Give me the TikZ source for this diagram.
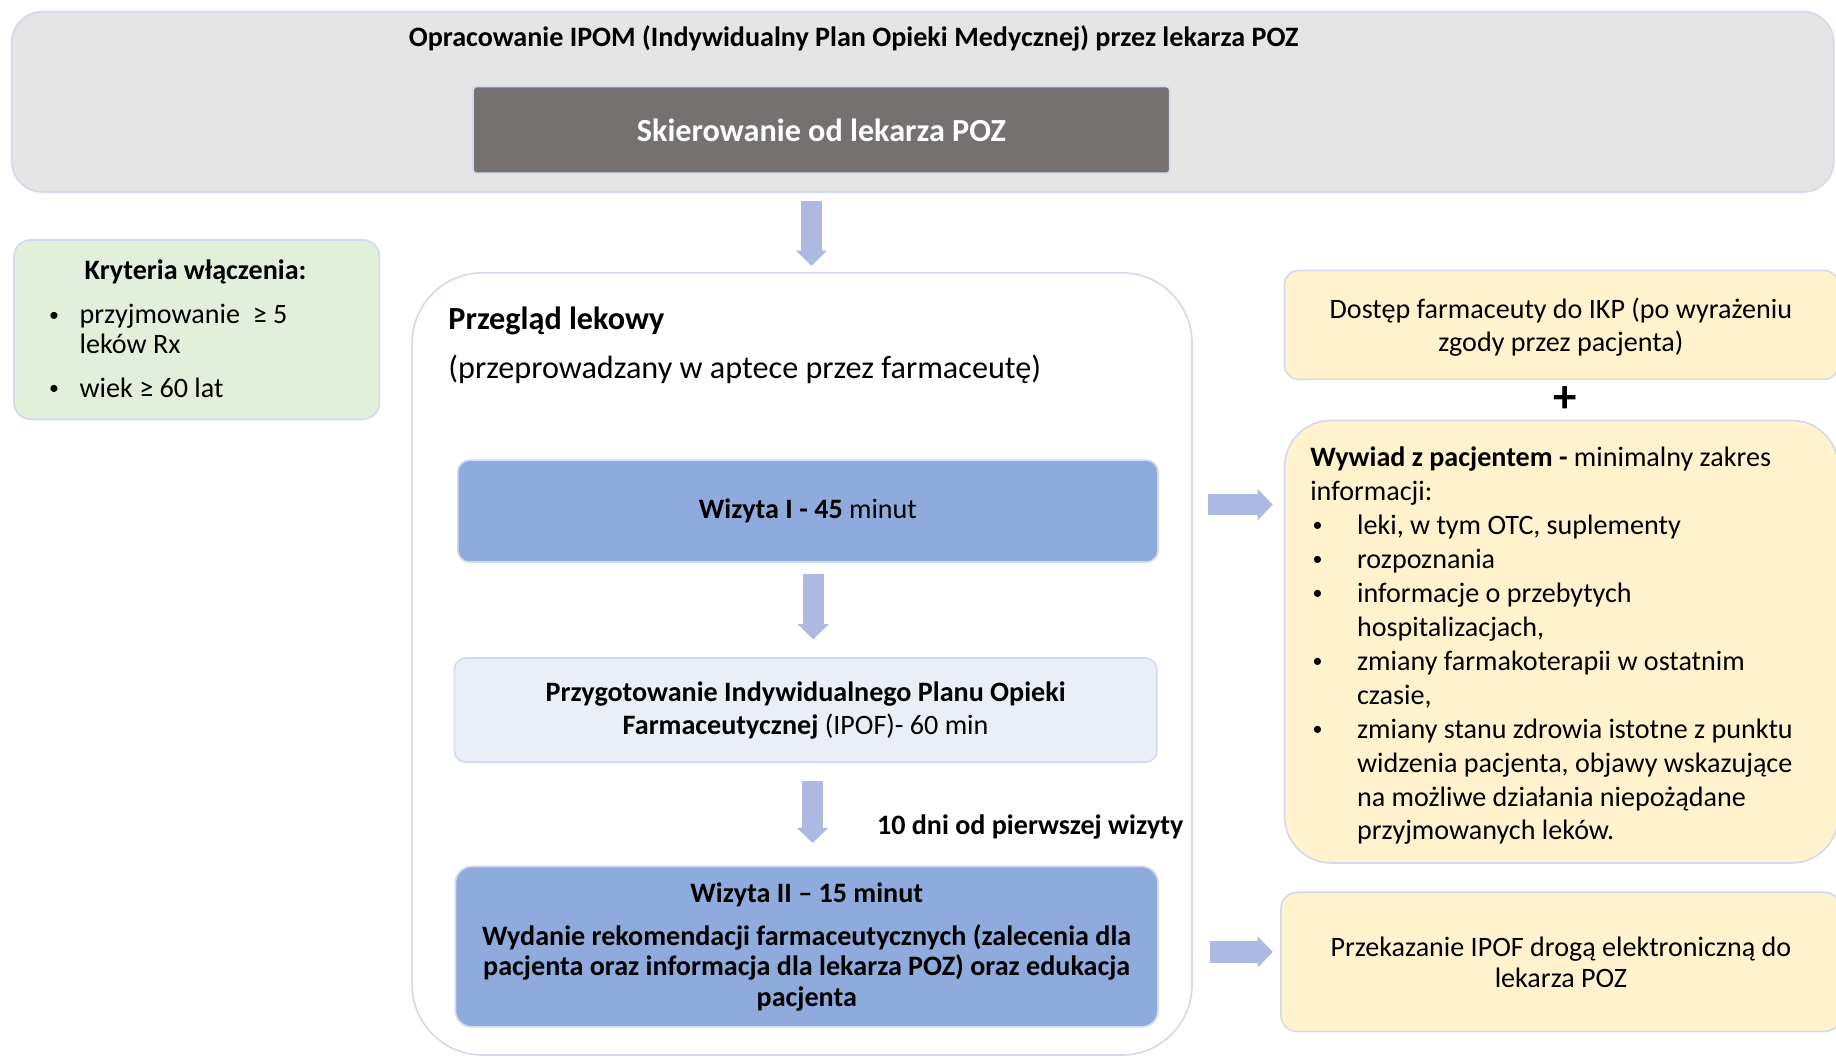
\documentclass[tikz,border=0pt]{standalone}
\usepackage{fontspec}
\setmainfont{Carlito}
\usetikzlibrary{arrows.meta,calc}

\definecolor{panelgray}{HTML}{E5E5E5}
\definecolor{rim}{HTML}{D3D9EE}
\definecolor{referral}{HTML}{767171}
\definecolor{criteria}{HTML}{E2EFDA}
\definecolor{visit}{HTML}{8FAADC}
\definecolor{plan}{HTML}{EAEEF7}
\definecolor{note}{HTML}{FFF2CC}
\definecolor{flow}{HTML}{ADB9E0}

\newcommand{\fsz}[2]{\fontsize{#1}{#2}\selectfont}
% small list bullet
\newcommand{\dotmark}{\raisebox{1.2pt}{\fsz{8.5}{8.5}•}}

\begin{document}
\begin{tikzpicture}[x=0.5pt, y=-0.5pt,
  panel/.style={draw=rim, line width=0.7pt, inner sep=0pt, outer sep=0pt},
  txt/.style={inner sep=0pt, outer sep=0pt, text=black},
  blockarrow/.style={draw=flow, line width=9pt, -{Triangle[width=13pt,length=6.5pt]}},
]
\useasboundingbox (0,0) rectangle (1568,903);
\clip (0,0) rectangle (1568,903);

% header band with the referral box
\node[panel, fill=panelgray, rounded corners=13pt, minimum width=778pt, minimum height=77pt] (header) at (788,87) {};
\node[txt, font=\bfseries\fsz{12}{14}] (title) at (729,33) {Opracowanie IPOM (Indywidualny Plan Opieki Medycznej) przez lekarza POZ};
\node[panel, fill=referral, rounded corners=1.5pt, minimum width=297.5pt, minimum height=37pt, text=white, font=\bfseries\fsz{13.75}{16}] (referral) at (701.5,111) {Skierowanie od lekarza POZ};

% inclusion criteria
\node[panel, fill=criteria, rounded corners=7pt, minimum width=156pt, minimum height=76.5pt] (criteria) at (168,281.5) {};
\node[txt, font=\bfseries\fsz{12}{14}] (crithead) at (167,232) {Kryteria włączenia:};
\node[txt, font=\fsz{12}{12.5}, align=left, anchor=west] (critlist) at (42,300)
  {\makebox[13pt][l]{\dotmark}przyjmowanie\ \ ≥ 5\\\hspace*{13pt}leków Rx\\[6.5pt]\makebox[13pt][l]{\dotmark}wiek ≥ 60 lat};

% medication review frame
\node[panel, fill=white, rounded corners=30pt, minimum width=333pt, minimum height=334pt] (review) at (685,567) {};
\node[txt, anchor=west, font=\bfseries\fsz{13.75}{16}] (revhead) at (383,274) {Przegląd lekowy};
\node[txt, anchor=west, font=\fsz{13.75}{16}] (revsub) at (383,315) {(przeprowadzany w aptece przez farmaceutę)};

\node[panel, fill=visit, rounded corners=5pt, minimum width=299pt, minimum height=43.5pt, font=\fsz{12}{14}] (visit1) at (690,436.5) {\textbf{Wizyta I - 45} minut};
\node[panel, fill=plan, rounded corners=5pt, minimum width=300pt, minimum height=44.5pt, font=\fsz{12}{14}, align=center] (plan) at (688,606.5)
  {\textbf{Przygotowanie Indywidualnego Planu Opieki}\\\textbf{Farmaceutycznej} (IPOF)- 60 min};
\node[panel, fill=visit, rounded corners=7pt, minimum width=300pt, minimum height=68.5pt, font=\bfseries\fsz{12}{13}, align=center] (visit2) at (689,808.5)
  {Wizyta II – 15 minut\\[5.5pt]Wydanie rekomendacji farmaceutycznych (zalecenia dla\\pacjenta oraz informacja dla lekarza POZ) oraz edukacja\\pacjenta};
\node[txt, anchor=west, font=\bfseries\fsz{12}{14}] (interval) at (749,706) {10 dni od pierwszej wizyty};

% right column
\node[panel, fill=note, rounded corners=6pt, minimum width=236.5pt, minimum height=46.5pt] (ikp) at (1333.5,277.5) {};
\node[txt, font=\fsz{12}{14}, align=center] (ikptext) at (1333,279.5)
  {Dostęp farmaceuty do IKP (po wyrażeniu\\zgody przez pacjenta)};
\node[txt, font=\bfseries\fsz{20}{22}] (plus) at (1337,341) {+};
\node[panel, fill=note, rounded corners=20pt, minimum width=236.5pt, minimum height=189pt] (interview) at (1333.5,548) {};
\node[txt, anchor=west, align=left, font=\fsz{12}{14.5}] (intlist) at (1119,551.5)
  {\textbf{Wywiad z pacjentem -} minimalny zakres\\
   informacji:\\
   \hspace*{1pt}\makebox[19pt][l]{\dotmark}leki, w tym OTC, suplementy\\
   \hspace*{1pt}\makebox[19pt][l]{\dotmark}rozpoznania\\
   \hspace*{1pt}\makebox[19pt][l]{\dotmark}informacje o przebytych\\
   \hspace*{20pt}hospitalizacjach,\\
   \hspace*{1pt}\makebox[19pt][l]{\dotmark}zmiany farmakoterapii w ostatnim\\
   \hspace*{20pt}czasie,\\
   \hspace*{1pt}\makebox[19pt][l]{\dotmark}zmiany stanu zdrowia istotne z punktu\\
   \hspace*{20pt}widzenia pacjenta, objawy wskazujące\\
   \hspace*{20pt}na możliwe działania niepożądane\\
   \hspace*{20pt}przyjmowanych leków.};
\node[panel, fill=note, rounded corners=7pt, minimum width=239pt, minimum height=59.5pt] (handover) at (1333,821.5) {};
\node[txt, font=\fsz{12}{13.5}, align=center] (handtext) at (1333,822)
  {Przekazanie IPOF drogą elektroniczną do\\lekarza POZ};

% block arrows
\coordinate (ax1) at (693,0);
\coordinate (ax2) at (694.5,0);
\coordinate (ax3) at (694,0);
\coordinate (ay4) at (0,431);
\coordinate (ay5) at (0,813);
\draw[blockarrow] ($(header.south -| ax1)+(0,8)$) -- ($(review.north -| ax1)+(0,-6)$);
\draw[blockarrow] ($(visit1.south -| ax2)+(0,10)$) -- ($(plan.north -| ax2)+(0,-16)$);
\draw[blockarrow] ($(plan.south -| ax3)+(0,16)$) -- ($(visit2.north -| ax3)+(0,-20)$);
\draw[blockarrow] ($(review.east |- ay4)+(14,0)$) -- ($(interview.west |- ay4)+(-10,0)$);
\draw[blockarrow] ($(review.east |- ay5)+(15,0)$) -- ($(handover.west |- ay5)+(-7,0)$);
\end{tikzpicture}
\end{document}
